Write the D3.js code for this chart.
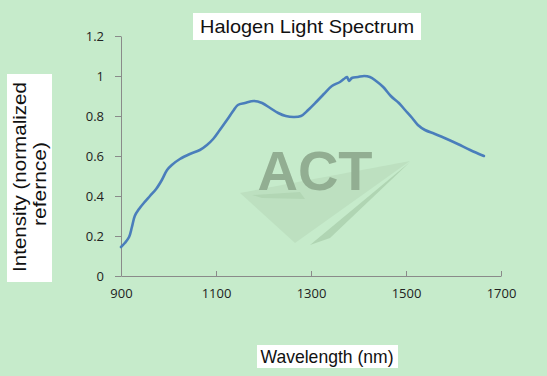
<!DOCTYPE html>
<html><head><meta charset="utf-8">
<script src="https://cdn.jsdelivr.net/npm/d3@7"></script>
<style>
html,body{margin:0;padding:0;background:#c6ebcb;}
svg{display:block;}
</style></head>
<body>
<script>
const wavelengths = [900,908,917,923,929,938,948,961,974,986,997,1007,1024,1045,1066,1081,1094,1108,1123,1136,1146,1161,1180,1197,1214,1231,1247,1264,1279,1294,1311,1327,1344,1361,1372,1376,1380,1386,1399,1412,1424,1437,1452,1468,1485,1498,1513,1525,1540,1561,1586,1609,1635,1664];
const intensity = [0.145,0.165,0.195,0.245,0.30,0.335,0.365,0.40,0.435,0.48,0.53,0.555,0.585,0.61,0.63,0.655,0.685,0.73,0.78,0.825,0.855,0.865,0.875,0.865,0.84,0.815,0.80,0.795,0.80,0.83,0.87,0.91,0.95,0.97,0.99,0.995,0.975,0.99,0.995,1.0,0.995,0.975,0.945,0.90,0.865,0.83,0.79,0.755,0.73,0.71,0.685,0.66,0.63,0.60];
const xTicks = [900,1100,1300,1500,1700];
const yTicks = [0,0.2,0.4,0.6,0.8,1,1.2];
const title = "Halogen Light Spectrum";
const xTitle = "Wavelength (nm)";
const yTitleLines = ["Intensity (normalized", "refernce)"];

const W = 547, H = 376;
const svg = d3.select("body").append("svg").attr("width", W).attr("height", H);
svg.append("rect").attr("width", W).attr("height", H).attr("fill", "#c6ebcb");

const x = d3.scaleLinear().domain([900,1700]).range([121,501]);
const y = d3.scaleLinear().domain([0,1.2]).range([276,36]);

// watermark
const wm = svg.append("g");
wm.append("path").attr("d","M240,193 L410,161 L295,243 Z").attr("fill","#bde0c0");
wm.append("path").attr("d","M310,245 L410,162 L330,238 Z").attr("fill","#b0d5b3");
wm.append("path").attr("d","M252,195 L300,192 L305,199 L262,198 Z").attr("fill","#b2d6b4");
wm.append("text").attr("x",315).attr("y",190).attr("text-anchor","middle")
  .attr("font-family","Liberation Sans, Arial, sans-serif").attr("font-weight","bold")
  .attr("font-size",56).attr("fill","#92ae92").text("ACT");

// axes
const axisColor = "#8a8a8a";
const gx = svg.append("g").attr("transform","translate(0,276)")
  .call(d3.axisBottom(x).tickValues(xTicks).tickSize(5).tickSizeOuter(0).tickPadding(8).tickFormat(d3.format("d")));
const gy = svg.append("g").attr("transform","translate(121,0)")
  .call(d3.axisLeft(y).tickValues(yTicks).tickSize(5).tickSizeOuter(0).tickPadding(12).tickFormat(d => d3.format("")(d)));
[gx,gy].forEach(g => {
  g.select(".domain").attr("stroke",axisColor).attr("stroke-width",1);
  g.selectAll(".tick line").attr("stroke",axisColor);
  g.selectAll("text").attr("font-family","Open Sans, Liberation Sans, sans-serif").attr("font-size",13).attr("fill","#222");
});
gx.selectAll(".tick line").attr("y1",-5).attr("y2",0);
gy.selectAll(".tick line").attr("x1",-6).attr("x2",0);

// line
const line = d3.line().x((d,i)=>x(wavelengths[i])).y(d=>y(d)).curve(d3.curveCatmullRom.alpha(0.5));
svg.append("path").datum(intensity).attr("d",line).attr("fill","none")
  .attr("stroke","#4a7ebb").attr("stroke-width",2.6).attr("stroke-linejoin","round").attr("stroke-linecap","round");

// title
svg.append("rect").attr("x",193).attr("y",13).attr("width",228).attr("height",27).attr("fill","#fff");
svg.append("text").attr("x",307).attr("y",33).attr("text-anchor","middle")
  .attr("font-family","Liberation Sans, Arial, sans-serif").attr("font-size",19).attr("fill","#111")
  .attr("textLength",214).attr("lengthAdjust","spacingAndGlyphs").text(title);

// x title
svg.append("rect").attr("x",257).attr("y",345).attr("width",141).attr("height",23).attr("fill","#fff");
svg.append("text").attr("x",327).attr("y",363).attr("text-anchor","middle")
  .attr("font-family","Liberation Sans, Arial, sans-serif").attr("font-size",18.5).attr("fill","#111")
  .attr("textLength",133).attr("lengthAdjust","spacingAndGlyphs").text(xTitle);

// y title
svg.append("rect").attr("x",7).attr("y",74).attr("width",45).attr("height",208).attr("fill","#fff");
svg.append("text").attr("transform","translate(26,177) rotate(-90)").attr("text-anchor","middle")
  .attr("font-family","Liberation Sans, Arial, sans-serif").attr("font-size",18.5).attr("fill","#111")
  .attr("textLength",190).attr("lengthAdjust","spacingAndGlyphs").text(yTitleLines[0]);
svg.append("text").attr("transform","translate(46,184) rotate(-90)").attr("text-anchor","middle")
  .attr("font-family","Liberation Sans, Arial, sans-serif").attr("font-size",18.5).attr("fill","#111")
  .attr("textLength",84).attr("lengthAdjust","spacingAndGlyphs").text(yTitleLines[1]);
</script>
</body></html>
